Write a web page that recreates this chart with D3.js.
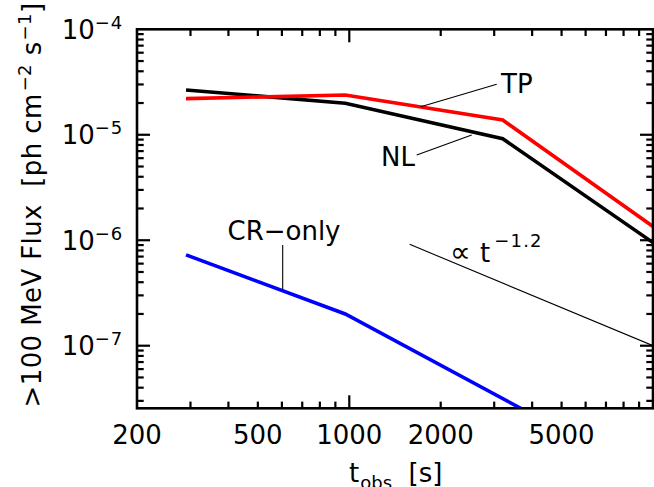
<!DOCTYPE html>
<html><head><meta charset="utf-8">
<script src="https://cdn.jsdelivr.net/npm/d3@7"></script>
<style>
html,body{margin:0;padding:0;background:#fff;}
svg text{font-family:"DejaVu Sans",sans-serif;fill:#000;white-space:pre;}
</style></head>
<body><svg id="c" width="654" height="487"></svg>
<script>
// ---- data ----
const times = [290, 970, 3200, 10000];
const fluxTP = [2.20e-5, 2.38e-5, 1.38e-5, 1.35e-6];
const fluxNL = [2.66e-5, 1.99e-5, 9.18e-6, 9.5e-7];
const timesCR = [290, 970, 3670];
const fluxCR = [7.26e-7, 2.0e-7, 2.55e-8];
const refTimes = [1580, 10000];
const refFlux = [9.15e-7, 1.0e-7];
const xTickLabels = [200, 500, 1000, 2000, 5000];
const yTickExps = [-4, -5, -6, -7];

const W = 654, H = 487;
const m = {l:137, r:653, t:29.3, b:408.3};
const svg = d3.select("#c");
const x = d3.scaleLog().domain([200, 10000]).range([m.l, m.r]);
const y = d3.scaleLog().domain([2.55e-8, 1e-4]).range([m.b, m.t]);

svg.append("defs").append("clipPath").attr("id","clip")
  .append("rect").attr("x",m.l).attr("y",m.t).attr("width",m.r-m.l).attr("height",m.b-m.t);

const line = d3.line().x(d=>x(d[0])).y(d=>y(d[1]));
const g = svg.append("g").attr("clip-path","url(#clip)");
function series(ts, fs, color, w){
  g.append("path").datum(ts.map((t,i)=>[t,fs[i]]))
   .attr("d", line).attr("fill","none").attr("stroke",color)
   .attr("stroke-width",w).attr("stroke-linejoin","miter");
}
series(times, fluxNL, "#000", 3.6);
series(times, fluxTP, "#ff0000", 3.6);
series(timesCR, fluxCR, "#0000ff", 3.6);
series(refTimes, refFlux, "#000", 1.1);

// leader lines
function leader(x1,y1,x2,y2){
  svg.append("line").attr("x1",x1).attr("y1",y1).attr("x2",x2).attr("y2",y2)
    .attr("stroke","#000").attr("stroke-width",1.1);
}
leader(420.7,106.7,496.7,84.3);
leader(416.7,155,471.7,135);
leader(282.7,245,282.7,290);

// labels
svg.append("text").attr("x",501).attr("y",93.3).attr("font-size",26).text("TP");
svg.append("text").attr("x",381).attr("y",166).attr("font-size",26).text("NL");
svg.append("text").attr("x",284).attr("y",240).attr("font-size",26).attr("text-anchor","middle").text("CR\u2212only");
svg.append("text").attr("x",450).attr("y",261.7).attr("font-size",29).text("\u221D");
const pl = svg.append("text").attr("x",480).attr("y",261.7).attr("font-size",26);
pl.append("tspan").text("t");
pl.append("tspan").attr("font-size",18).attr("dy",-15).attr("dx",4).attr("letter-spacing",1.2).text("\u22121.2");

// axes ticks
const frame = svg.append("g");
const xt = x.ticks();
const yt = y.ticks();
const isDec = v => Math.abs(Math.log10(v) - Math.round(Math.log10(v))) < 1e-6;
xt.forEach(v=>{
  const px = x(v), L = isDec(v) ? 13 : 6.7;
  if (px < m.l+1 || px > m.r-1) return;
  frame.append("line").attr("x1",px).attr("x2",px).attr("y1",m.b).attr("y2",m.b-L);
  frame.append("line").attr("x1",px).attr("x2",px).attr("y1",m.t).attr("y2",m.t+L);
});
yt.forEach(v=>{
  const py = y(v), L = isDec(v) ? 13 : 6.7;
  if (py < m.t+1 || py > m.b-1) return;
  frame.append("line").attr("y1",py).attr("y2",py).attr("x1",m.l).attr("x2",m.l+L);
  frame.append("line").attr("y1",py).attr("y2",py).attr("x1",m.r).attr("x2",m.r-L);
});
frame.selectAll("line").attr("stroke","#000").attr("stroke-width",2.2);
frame.append("rect").attr("x",m.l).attr("y",m.t).attr("width",m.r-m.l).attr("height",m.b-m.t)
  .attr("fill","none").attr("stroke","#000").attr("stroke-width",2.6);

// tick labels
xTickLabels.forEach(v=>{
  svg.append("text").attr("x",x(v)).attr("y",443.5).attr("font-size",26)
    .attr("text-anchor","middle").text(v);
});
yTickExps.forEach(e=>{
  const t = svg.append("text").attr("x",123).attr("y",y(Math.pow(10,e))+9.3)
    .attr("font-size",26).attr("text-anchor","end");
  t.append("tspan").text("10");
  t.append("tspan").attr("font-size",18).attr("dy",-10).attr("letter-spacing",0.8).text("\u2212"+Math.abs(e));
});

// axis titles
const xtitle = svg.append("text").attr("x",349).attr("y",481.7).attr("font-size",26);
xtitle.append("tspan").text("t");
xtitle.append("tspan").attr("font-size",18).attr("dy",7).attr("dx",1).text("obs");
xtitle.append("tspan").attr("dy",-7).text("  [s]");

const ytitle = svg.append("text").attr("transform","translate(41,205) rotate(-90)")
  .attr("font-size",26).attr("text-anchor","middle").attr("letter-spacing",0.4);
ytitle.append("tspan").text(">100 MeV Flux  [ph cm");
ytitle.append("tspan").attr("font-size",18).attr("dy",-10).attr("dx",2).text("\u22122");
ytitle.append("tspan").attr("dy",10).text(" s");
ytitle.append("tspan").attr("font-size",18).attr("dy",-10).attr("dx",1).text("\u22121");
ytitle.append("tspan").attr("dy",10).text("]");
</script></body></html>
